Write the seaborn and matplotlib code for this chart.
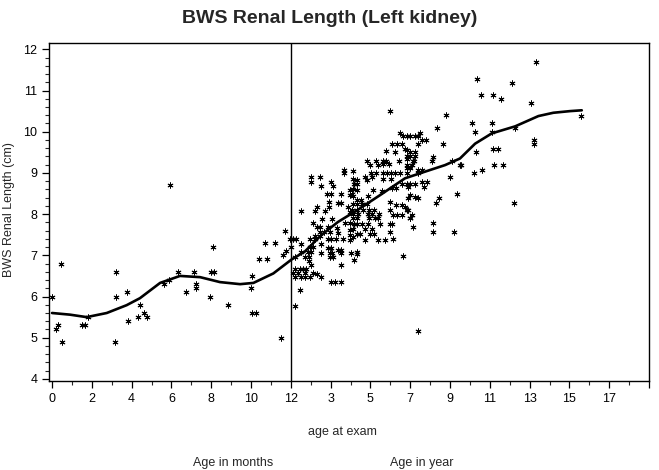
import matplotlib
matplotlib.use("Agg")
import matplotlib.pyplot as plt
import seaborn as sns
import pandas as pd
from matplotlib.ticker import MultipleLocator

# infants: age in months, renal length in cm
infant_months = [0.0, 0.47, 0.2, 0.32, 0.52, 1.49, 1.64, 1.79, 3.22, 3.22, 3.18, 3.75, 3.8,
                 4.4, 4.3, 4.6, 4.76, 5.64, 5.86, 5.93, 6.31, 6.72, 7.14, 7.22, 7.22, 7.94,
                 7.99, 8.16, 8.07, 8.83, 9.98, 10.07, 10.07, 10.25, 10.42, 10.79, 10.72, 11.2,
                 11.49, 11.62, 11.71, 11.74, 11.94, 12.0]
infant_len = [6.0, 6.8, 5.2, 5.3, 4.9, 5.3, 5.3, 5.5, 6.6, 6.0, 4.9, 6.1, 5.4,
              5.8, 5.5, 5.6, 5.5, 6.3, 6.4, 8.7, 6.6, 6.1, 6.6, 6.3, 6.2, 6.0,
              6.6, 6.6, 7.2, 5.8, 6.2, 6.5, 5.6, 5.6, 6.9, 6.9, 7.3, 7.3,
              5.0, 7.0, 7.6, 7.1, 7.39, 7.19]

# children: age in years, renal length in cm
child_years = [
    3.67, 3.65, 2.0, 2.45, 2.03, 3.03, 2.53, 3.12, 2.83, 3.0, 3.54, 3.96, 3.96, 3.37, 3.54,
    2.93, 3.87, 2.9, 1.53, 2.2, 2.7, 2.3, 3.95, 2.58, 3.08, 2.12, 3.71, 3.96, 2.33, 2.48,
    2.87, 3.34, 3.96, 2.45, 2.65, 2.95, 2.2, 2.45, 3.37, 3.96, 1.1, 1.28, 1.95, 2.2, 2.87,
    3.04, 3.29, 3.62, 3.96, 1.53, 2.53, 1.95, 2.12, 2.87, 3.03, 3.37, 3.54, 1.53, 1.86, 2.03,
    2.53, 2.95, 3.08, 3.54, 1.2, 1.73, 1.9, 2.95, 3.12, 1.9, 1.23, 1.45, 1.62, 1.78, 2.03,
    3.54, 1.12, 1.36, 1.7, 2.12, 2.32, 1.2, 1.53, 1.7, 1.95, 2.53, 3.04, 3.2, 3.54, 1.45,
    1.23,
    5.98, 6.49, 6.65, 6.07, 6.32, 6.57, 6.72, 5.78, 6.22, 4.85, 5.28, 5.62, 5.78, 6.45, 6.85,
    4.98, 5.4, 5.62, 5.93, 4.11, 5.02, 5.28, 5.65, 5.85, 6.02, 6.24, 6.49, 4.73, 5.07, 4.34,
    4.82, 5.62, 6.04, 4.1, 6.57, 6.82, 4.17, 4.34, 4.12, 4.3, 5.12, 6.07, 6.27, 4.05, 4.14,
    5.6, 4.3, 4.55, 4.9, 4.14, 4.31, 4.56, 4.81, 6.0, 6.3, 6.6, 4.06, 4.31, 4.65, 4.95,
    5.18, 5.98, 6.73, 6.9, 4.14, 4.4, 4.9, 5.07, 5.45, 6.15, 6.32, 6.57, 4.14, 4.31, 4.95,
    5.23, 5.4, 7.0, 4.17, 4.34, 4.56, 4.9, 5.48, 5.98, 6.07, 4.1, 4.73, 5.07, 4.98, 5.18,
    4.3, 4.5, 6.0, 5.4, 5.73, 6.15, 4.73, 4.1, 4.3, 4.3, 4.17, 6.63, 4.0,
    8.78, 8.33, 7.49, 6.82, 6.99, 7.24, 7.41, 7.6, 7.77, 8.66, 7.41, 6.82, 6.99, 7.24, 6.82,
    6.99, 7.24, 8.16, 8.07, 7.12, 7.2, 6.82, 7.07, 9.08, 9.5, 7.4, 7.57, 6.82, 6.99, 7.4,
    6.82, 9.0, 6.99, 7.24, 7.6, 7.82, 7.69, 6.9, 6.99, 7.24, 7.41, 6.9, 8.46, 8.29, 9.33,
    7.07, 6.99, 7.16, 8.16, 8.16, 9.22, 6.82, 7.39,
    13.32, 10.37, 12.13, 10.54, 11.18, 11.55, 13.06, 15.58, 10.09, 11.1, 10.26, 11.1, 12.27,
    13.22, 13.22, 11.18, 11.43, 10.31, 9.55, 11.21, 11.65, 10.59, 10.2, 12.23]
child_len = [
    9.08, 8.99, 8.89, 8.89, 8.78, 8.78, 8.69, 8.68, 8.5, 8.5, 8.5, 8.58, 8.46, 8.27, 8.27,
    8.3, 8.18, 8.18, 8.08, 8.08, 8.08, 8.18, 8.05, 7.87, 7.87, 7.79, 7.79, 7.79, 7.68, 7.68,
    7.68, 7.66, 7.61, 7.57, 7.57, 7.57, 7.47, 7.47, 7.55, 7.5, 7.39, 7.39, 7.39, 7.39, 7.39,
    7.39, 7.39, 7.39, 7.37, 7.27, 7.27, 7.19, 7.19, 7.17, 7.17, 7.13, 7.13, 7.08, 7.08, 7.08,
    7.06, 7.06, 7.06, 7.05, 6.97, 6.97, 6.97, 6.96, 6.96, 6.86, 6.68, 6.68, 6.68, 6.68, 6.76,
    6.76, 6.56, 6.56, 6.56, 6.56, 6.55, 6.47, 6.47, 6.47, 6.47, 6.47, 6.36, 6.36, 6.36, 6.17,
    5.78,
    10.5, 9.97, 9.89, 9.69, 9.69, 9.69, 9.57, 9.53, 9.5, 9.29, 9.29, 9.29, 9.3, 9.29, 9.33,
    9.19, 9.19, 9.21, 9.22, 9.04, 8.99, 9.0, 8.99, 9.0, 8.99, 9.0, 9.0, 8.9, 8.9, 8.82,
    8.82, 8.86, 8.86, 8.86, 8.73, 8.73, 8.73, 8.73, 8.62, 8.58, 8.58, 8.64, 8.64, 8.5, 8.45,
    8.55, 8.34, 8.34, 8.43, 8.24, 8.24, 8.24, 8.24, 8.3, 8.23, 8.23, 8.11, 8.11, 8.11, 8.11,
    8.11, 8.11, 8.17, 8.1, 8.0, 8.0, 8.0, 8.0, 8.0, 7.98, 7.98, 7.98, 7.9, 7.9, 7.9,
    7.9, 7.9, 7.9, 7.77, 7.77, 7.77, 7.77, 7.77, 7.77, 7.77, 7.65, 7.65, 7.65, 7.52, 7.52,
    7.52, 7.52, 7.57, 7.37, 7.37, 7.4, 7.37, 7.45, 7.09, 7.03, 6.88, 6.99, 7.05,
    10.4, 10.09, 9.97, 9.89, 9.89, 9.89, 9.89, 9.79, 9.79, 9.7, 9.7, 9.55, 9.51, 9.51, 9.41,
    9.41, 9.41, 9.39, 9.3, 9.29, 9.29, 9.2, 9.2, 9.29, 9.19, 9.08, 9.08, 9.12, 9.12, 9.01,
    9.0, 8.89, 8.72, 8.72, 8.78, 8.78, 8.66, 8.66, 8.46, 8.42, 8.4, 8.4, 8.4, 8.27, 8.48,
    7.99, 7.9, 7.69, 7.79, 7.57, 7.57, 8.1, 5.16,
    11.69, 11.29, 11.19, 10.9, 10.9, 10.79, 10.7, 10.38, 10.2, 10.2, 10.0, 10.0, 10.09,
    9.79, 9.69, 9.59, 9.59, 9.5, 9.19, 9.19, 9.19, 9.08, 8.99, 8.27]

# smoothed fit, read on the combined "age at exam" axis (months to 12, then years + 11)
curve_pos = [0.0, 0.9, 1.74, 2.75, 3.75, 4.42, 5.43, 6.43, 7.44, 8.44, 9.45, 10.12, 11.12,
             12.04, 12.7, 13.53, 14.37, 15.38, 16.48, 17.74, 18.74, 19.75, 20.5, 21.26,
             22.1, 23.27, 24.44, 25.19, 26.03, 26.62]
curve_len = [5.6, 5.56, 5.5, 5.6, 5.79, 5.96, 6.33, 6.5, 6.47, 6.35, 6.3, 6.33, 6.56,
             6.9, 7.09, 7.49, 7.81, 8.11, 8.46, 8.87, 9.03, 9.19, 9.35, 9.71,
             9.96, 10.13, 10.38, 10.46, 10.5, 10.52]

tick_pos = list(range(0, 31, 2))
tick_labels = ["0", "2", "4", "6", "8", "10", "12",
               "3", "5", "7", "9", "11", "13", "15", "17", ""]

sns.set_style("ticks")
plt.rcParams["font.family"] = ["Liberation Sans", "DejaVu Sans"]

df = pd.DataFrame({
    "pos": infant_months + [y + 11 for y in child_years],
    "length": infant_len + child_len,
})

fig = plt.figure(figsize=(6.59, 4.70), dpi=100)
ax = fig.add_axes([0.0744, 0.1894, 0.9105, 0.7197])

sns.scatterplot(data=df, x="pos", y="length", marker=(6, 2, 0), s=14,
                color="black", linewidth=0.7, ax=ax, legend=False, zorder=3)
sns.lineplot(x=curve_pos, y=curve_len, color="black", linewidth=1.9,
             estimator=None, sort=False, ax=ax, zorder=4)
ax.axvline(12, color="black", linewidth=1.0)

ax.set_xlim(-0.15, 30.0)
ax.set_ylim(3.95, 12.16)
ax.set_xticks(tick_pos)
ax.set_xticklabels(tick_labels)
ax.xaxis.set_minor_locator(MultipleLocator(1))
ax.set_yticks(range(4, 13))
ax.yaxis.set_minor_locator(MultipleLocator(0.2))
ax.tick_params(axis="both", which="major", length=5, width=0.9, labelsize=9, colors="black")
ax.tick_params(axis="both", which="minor", length=3, width=0.8)
for sp in ax.spines.values():
    sp.set_visible(True)
    sp.set_linewidth(1.0)
    sp.set_color("black")

ax.set_xlabel("")
ax.set_ylabel("")
fig.text(0.014, 0.555, "BWS Renal Length (cm)", rotation=90, ha="center", va="center", fontsize=9)
fig.text(0.52, 0.081, "age at exam", ha="center", va="center", fontsize=9)
fig.text(0.354, 0.015, "Age in months", ha="center", va="center", fontsize=9)
fig.text(0.64, 0.015, "Age in year", ha="center", va="center", fontsize=9)
fig.text(0.5, 0.96, "BWS Renal Length (Left kidney)", ha="center", va="center",
         fontsize=14, fontweight="bold")

fig.savefig("out.png", dpi=100)
